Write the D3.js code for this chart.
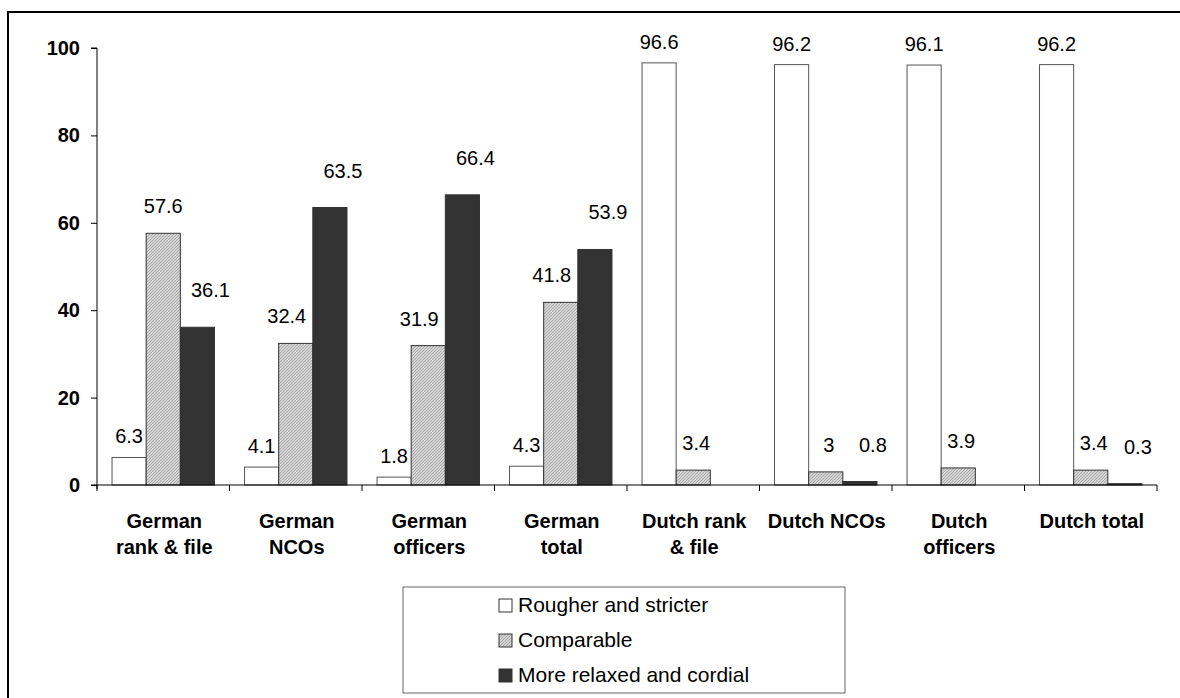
<!DOCTYPE html>
<html>
<head>
<meta charset="utf-8">
<script src="https://cdn.jsdelivr.net/npm/d3@7"></script>
<style>
  html, body { margin: 0; padding: 0; background: #fff; }
  svg { display: block; font-family: Arial, "Liberation Sans", sans-serif; }
</style>
</head>
<body>
<svg id="chart" width="1180" height="698"></svg>
<script>
// ---- data ----
const categories = [
  ["German", "rank & file"],
  ["German", "NCOs"],
  ["German", "officers"],
  ["German", "total"],
  ["Dutch rank", "& file"],
  ["Dutch NCOs"],
  ["Dutch", "officers"],
  ["Dutch total"]
];
const seriesNames = ["Rougher and stricter", "Comparable", "More relaxed and cordial"];
const rougher     = [6.3, 4.1, 1.8, 4.3, 96.6, 96.2, 96.1, 96.2];
const comparable  = [57.6, 32.4, 31.9, 41.8, 3.4, 3, 3.9, 3.4];
const relaxed     = [36.1, 63.5, 66.4, 53.9, null, 0.8, null, 0.3];
const yTicks = [0, 20, 40, 60, 80, 100];

// ---- layout ----
const svg = d3.select("#chart");
const plot = { left: 97, right: 1157, top: 48, bottom: 485 };

const defs = svg.append("defs");
const pat = defs.append("pattern")
  .attr("id", "hatch").attr("patternUnits", "userSpaceOnUse")
  .attr("width", 3).attr("height", 3);
pat.append("rect").attr("width", 3).attr("height", 3).attr("fill", "#d2d2d2");
pat.append("path").attr("d", "M-1,1 l2,-2 M0,3 l3,-3 M2,4 l2,-2")
  .attr("stroke", "#a9a9a9").attr("stroke-width", 0.9);

const fills = ["#ffffff", "url(#hatch)", "#333333"];
const labelGap = [14, 20, 30];

// outer frame
svg.append("rect").attr("x", 8).attr("y", 12).attr("width", 1200).attr("height", 720)
  .attr("fill", "none").attr("stroke", "#000").attr("stroke-width", 2);

const x0 = d3.scaleBand().domain(d3.range(categories.length))
  .range([plot.left, plot.right]).paddingInner(0).paddingOuter(0);
const x1 = d3.scaleBand().domain(d3.range(3))
  .range([0, x0.bandwidth()]).paddingInner(0).paddingOuter(0.44);
const y = d3.scaleLinear().domain([0, 100]).range([plot.bottom, plot.top]);

const seriesVals = [rougher, comparable, relaxed];

// label nudge: keep labels clear of taller neighbouring bars
function labelDx(s, i) {
  if (s === 0) return 0;
  if (s === 2) return 13;
  const v = comparable[i];
  let dx = 0;
  if ((relaxed[i] || 0) > v) dx -= 9;
  if ((rougher[i] || 0) > v) dx += 3;
  return dx;
}

// bars
const g = svg.append("g");
seriesVals.forEach((vals, s) => {
  vals.forEach((v, i) => {
    if (v == null) return;
    g.append("rect")
      .attr("x", x0(i) + x1(s))
      .attr("y", y(v))
      .attr("width", x1.bandwidth())
      .attr("height", y(0) - y(v))
      .attr("fill", fills[s])
      .attr("stroke", s === 0 ? "#555" : "#333")
      .attr("stroke-width", 1);
  });
});

// value labels
seriesVals.forEach((vals, s) => {
  vals.forEach((v, i) => {
    if (v == null) return;
    g.append("text")
      .attr("x", x0(i) + x1(s) + x1.bandwidth() / 2 + labelDx(s, i))
      .attr("y", y(v) - labelGap[s])
      .attr("text-anchor", "middle")
      .attr("font-size", 20)
      .attr("fill", "#000")
      .text(String(v));
  });
});

// y axis
const yAxis = d3.axisLeft(y).tickValues(yTicks).tickSize(6).tickPadding(11).tickFormat(d3.format("d"));
const ya = svg.append("g").attr("transform", `translate(${plot.left},0)`).call(yAxis);
ya.select(".domain").attr("d", `M-6,${plot.top}H0V${plot.bottom + 4}`).attr("stroke", "#000");
ya.selectAll(".tick line").attr("stroke", "#000");
ya.selectAll(".tick text").attr("font-size", 20).attr("font-weight", "bold")
  .attr("fill", "#000").attr("font-family", "Arial, 'Liberation Sans', sans-serif");

// x axis baseline and category ticks
svg.append("line").attr("x1", plot.left - 6).attr("x2", plot.right)
  .attr("y1", plot.bottom).attr("y2", plot.bottom).attr("stroke", "#000");
d3.range(categories.length + 1).forEach(i => {
  const xx = i < categories.length ? x0(i) : plot.right;
  svg.append("line").attr("x1", xx).attr("x2", xx)
    .attr("y1", plot.bottom).attr("y2", plot.bottom + 6).attr("stroke", "#000");
});

// category labels
categories.forEach((lines, i) => {
  const cx = x0(i) + x0.bandwidth() / 2 + 1;
  const t = svg.append("text")
    .attr("x", cx)
    .attr("y", 528)
    .attr("text-anchor", "middle")
    .attr("font-size", 20).attr("font-weight", "bold").attr("fill", "#000");
  lines.forEach((ln, k) => {
    t.append("tspan").attr("x", cx)
      .attr("dy", k === 0 ? 0 : 26).text(ln);
  });
});

// legend
const lg = svg.append("g");
lg.append("rect").attr("x", 403).attr("y", 587).attr("width", 442).attr("height", 106)
  .attr("fill", "#fff").attr("stroke", "#666").attr("stroke-width", 1);
seriesNames.forEach((name, s) => {
  const cy = 605 + s * 35;
  lg.append("rect").attr("x", 499).attr("y", cy - 6).attr("width", 13).attr("height", 13)
    .attr("fill", fills[s]).attr("stroke", "#333").attr("stroke-width", 1);
  lg.append("text").attr("x", 518).attr("y", cy + 7)
    .attr("font-size", 21).attr("fill", "#000").text(name);
});
</script>
</body>
</html>
